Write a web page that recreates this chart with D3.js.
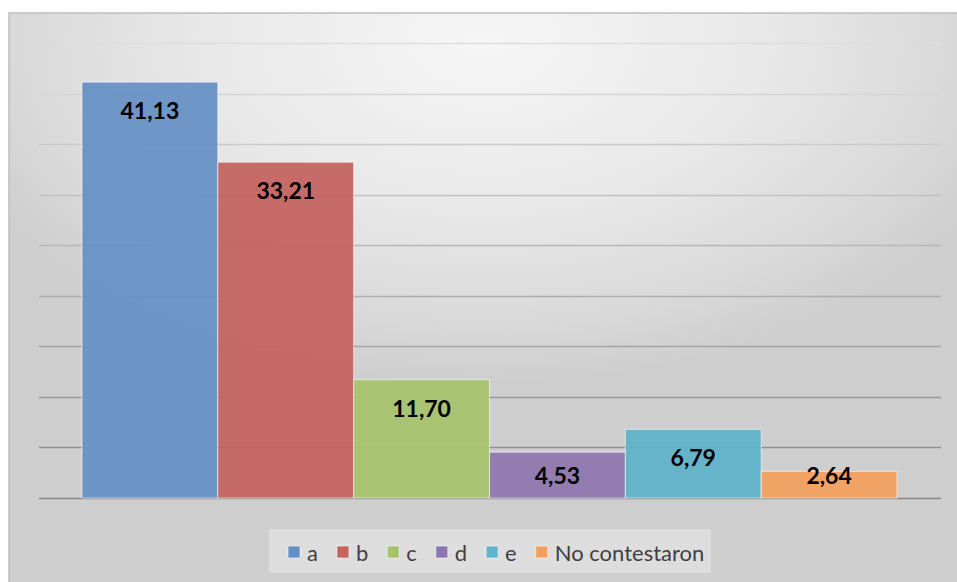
<!DOCTYPE html>
<html>
<head>
<meta charset="utf-8">
<script src="https://cdn.jsdelivr.net/npm/d3@7"></script>
<style>
  body { margin: 0; background: #fff; }
  svg { display: block; }
</style>
</head>
<body>
<div id="chart"></div>
<script>
// data
var categories = ["a", "b", "c", "d", "e", "No contestaron"];
var values = [41.13, 33.21, 11.70, 4.53, 6.79, 2.64];
var colors = ["#6690c4", "#c4635f", "#a6c26b", "#8e77ae", "#60b3c9", "#f2a05d"];
var yTicks = [0, 5, 10, 15, 20, 25, 30, 35, 40, 45];

var W = 957, H = 582;

var svg = d3.select("#chart").append("svg")
    .attr("width", W)
    .attr("height", H);

var defs = svg.append("defs");

// chart area background (radial, light at top centre)
var bg = defs.append("radialGradient")
    .attr("id", "bgGrad")
    .attr("cx", 0.5).attr("cy", 0.05).attr("r", 0.6);
bg.append("stop").attr("offset", 0).attr("stop-color", "#f6f6f6");
bg.append("stop").attr("offset", 0.5).attr("stop-color", "#e8e8e8");
bg.append("stop").attr("offset", 0.82).attr("stop-color", "#d9d9d9");
bg.append("stop").attr("offset", 1).attr("stop-color", "#cecece");

// gridlines get darker toward the bottom
var gg = defs.append("linearGradient")
    .attr("id", "gridGrad")
    .attr("gradientUnits", "userSpaceOnUse")
    .attr("x1", 0).attr("x2", 0).attr("y1", 43).attr("y2", 498);
gg.append("stop").attr("offset", 0).attr("stop-color", "#dedede");
gg.append("stop").attr("offset", 1).attr("stop-color", "#878787");

svg.append("rect")
    .attr("x", 9).attr("y", 13)
    .attr("width", W - 9 + 2).attr("height", H - 13 + 2)
    .attr("fill", "url(#bgGrad)")
    .attr("stroke", "#bdbdbd")
    .attr("stroke-width", 1.5);

// scales
var y = d3.scaleLinear()
    .domain([0, 45])
    .range([498, 43]);

var x = d3.scaleBand()
    .domain(categories)
    .range([82, 897])
    .padding(0);

// gridlines
svg.append("g")
    .selectAll("line")
    .data(yTicks)
    .enter()
    .append("line")
    .attr("x1", 39)
    .attr("x2", 941)
    .attr("y1", function (d) { return Math.round(y(d)) + 0.5; })
    .attr("y2", function (d) { return Math.round(y(d)) + 0.5; })
    .attr("stroke", "url(#gridGrad)")
    .attr("stroke-width", 1.5);

// bars
svg.append("g")
    .selectAll("rect")
    .data(values)
    .enter()
    .append("rect")
    .attr("x", function (d, i) { return x(categories[i]); })
    .attr("y", function (d) { return y(d); })
    .attr("width", x.bandwidth())
    .attr("height", function (d) { return y(0) - y(d); })
    .attr("fill", function (d, i) { return colors[i]; })
    .attr("fill-opacity", 0.94)
    .attr("stroke", "#ffffff")
    .attr("stroke-opacity", 0.6)
    .attr("stroke-width", 1);

// value labels (inside end, clamped near the base for short bars)
svg.append("g")
    .selectAll("text")
    .data(values)
    .enter()
    .append("text")
    .attr("x", function (d, i) { return x(categories[i]) + x.bandwidth() / 2; })
    .attr("y", function (d) { return Math.min(y(d) + 28, y(0) - 23); })
    .attr("text-anchor", "middle")
    .attr("dominant-baseline", "central")
    .style("font-family", "Lato, 'Open Sans', sans-serif")
    .style("font-weight", "bold")
    .style("font-size", "23px")
    .style("fill", "#000")
    .text(function (d) { return d.toFixed(2).replace(".", ","); });

// legend
var legend = svg.append("g");
legend.append("rect")
    .attr("x", 269).attr("y", 529)
    .attr("width", 442).attr("height", 44)
    .attr("fill", "#ffffff")
    .attr("fill-opacity", 0.3);

var lx = 288, ly = 552;
categories.forEach(function (c, i) {
    legend.append("rect")
        .attr("x", lx).attr("y", ly - 6)
        .attr("width", 12).attr("height", 12)
        .attr("fill", colors[i])
        .attr("stroke", "#ffffff")
        .attr("stroke-opacity", 0.6);
    var t = legend.append("text")
        .attr("x", lx + 19)
        .attr("y", ly)
        .attr("dominant-baseline", "central")
        .style("font-family", "Lato, 'Open Sans', sans-serif")
        .style("font-size", "22px")
        .style("fill", "#404040")
        .text(c);
    lx += 19 + t.node().getComputedTextLength() + 19;
});
</script>
</body>
</html>
